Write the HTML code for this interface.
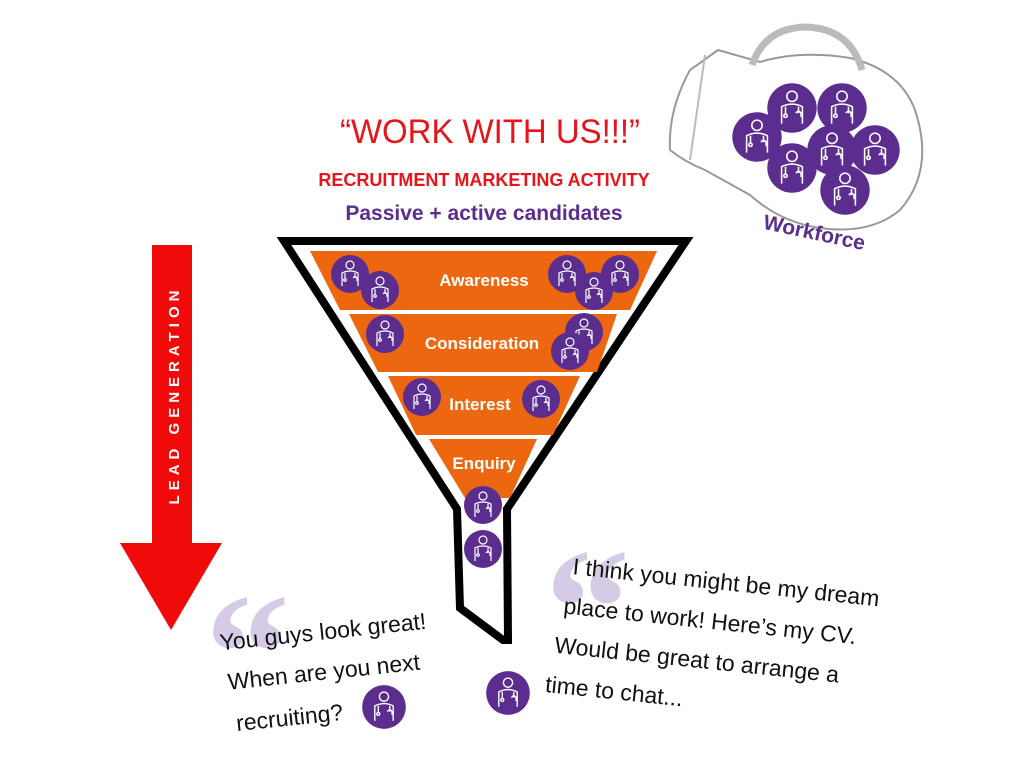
<!DOCTYPE html>
<html><head><meta charset="utf-8"><style>
html,body{margin:0;padding:0;background:#fff;}
svg{display:block}
.hw{font-family:"Liberation Sans Narrow","Liberation Sans",sans-serif;fill:#111;font-size:23px}
.lbl{font-family:"Liberation Sans",sans-serif;font-weight:bold;fill:#fff;font-size:17px}
.q{font-family:"Liberation Serif",serif;font-weight:bold;font-size:170px;fill:#d6cbe6}
</style></head><body>
<svg width="1024" height="757" viewBox="0 0 1024 757" xmlns="http://www.w3.org/2000/svg">
<defs>
<g id="doc">
 <circle r="19" fill="#5b2d8e"/>
 <g fill="none" stroke="#fff" stroke-width="1.2">
  <circle cx="0" cy="-9" r="4"/>
  <path d="M-8 12 V-1 Q0 -5 8 -1 V12"/>
  <path d="M-5 -1 V5 M5 -1 V4 M3 4 Q5 1 7 4 V7"/>
  <circle cx="-5" cy="6" r="1.3"/>
 </g>
</g>
</defs>

<!-- jug -->
<g fill="none" stroke="#999" stroke-width="2">
 <path d="M670 150 Q668 110 690 70 L718 50 L760 62 Q800 50 850 58 Q900 70 915 110 Q935 170 900 210 Q870 235 820 228 Q780 222 750 195 L705 170 Q685 162 670 150 Z"/>
 <path d="M752 65 Q765 28 805 27 Q850 28 862 70" stroke-width="7" stroke="#bbb"/>
 <path d="M705 55 L690 160" stroke="#bbb"/>
</g>
<g>
 <use href="#doc" transform="translate(757,137) scale(1.3)"/>
 <use href="#doc" transform="translate(792,108) scale(1.3)"/>
 <use href="#doc" transform="translate(842,108) scale(1.3)"/>
 <use href="#doc" transform="translate(875,150) scale(1.3)"/>
 <use href="#doc" transform="translate(792,168) scale(1.3)"/>
 <use href="#doc" transform="translate(832,150) scale(1.3)"/>
 <use href="#doc" transform="translate(845,190) scale(1.3)"/>
</g>
<text x="760" y="240" transform="rotate(12 815 245)" font-family="Liberation Sans,sans-serif" font-weight="bold" font-size="21" fill="#5b2d8e">Workforce</text>

<!-- headings -->
<text x="340" y="143" textLength="300" lengthAdjust="spacingAndGlyphs" font-family="Liberation Sans Narrow,Liberation Sans,sans-serif" font-size="34" fill="#e8141b">“WORK WITH US!!!”</text>
<text x="484" y="186" text-anchor="middle" font-family="Liberation Sans,sans-serif" font-weight="bold" font-size="18" fill="#e8141b">RECRUITMENT MARKETING ACTIVITY</text>
<text x="484" y="220" text-anchor="middle" font-family="Liberation Sans,sans-serif" font-weight="bold" font-size="21" fill="#5b2d8e">Passive + active candidates</text>

<!-- red arrow -->
<rect x="152" y="245" width="40" height="302" fill="#f00a0a"/>
<polygon points="120,543 222,543 171,630" fill="#f00a0a"/>
<text transform="translate(179,395) rotate(-90)" text-anchor="middle" font-family="Liberation Sans,sans-serif" font-weight="bold" font-size="15" letter-spacing="5" fill="#fff">LEAD GENERATION</text>

<!-- funnel -->
<path d="M284 241 L686 241 L507 509 L508 640 L503 640 L460 608 L457 509 Z" fill="none" stroke="#000" stroke-width="8" stroke-linejoin="miter"/>
<polygon points="310,251 657,251 630,310 340,310" fill="#ed6711"/>
<polygon points="349,314 617,314 597,372 378,372" fill="#ed6711"/>
<polygon points="388,376 580,376 553,435 416,435" fill="#ed6711"/>
<polygon points="429,439 537,439 510,498 465,498" fill="#ed6711"/>
<text class="lbl" x="484" y="286" text-anchor="middle">Awareness</text>
<text class="lbl" x="482" y="349" text-anchor="middle">Consideration</text>
<text class="lbl" x="480" y="410" text-anchor="middle">Interest</text>
<text class="lbl" x="484" y="469" text-anchor="middle">Enquiry</text>
<use href="#doc" x="350" y="274"/>
<use href="#doc" x="380" y="290"/>
<use href="#doc" x="567" y="274"/>
<use href="#doc" x="620" y="274"/>
<use href="#doc" x="594" y="291"/>
<use href="#doc" x="385" y="334"/>
<use href="#doc" x="584" y="332"/>
<use href="#doc" x="570" y="351"/>
<use href="#doc" x="422" y="397"/>
<use href="#doc" x="541" y="399"/>
<use href="#doc" x="483" y="505"/>
<use href="#doc" x="483" y="549"/>

<!-- quotes -->
<text class="q" x="205" y="710">“</text>
<text class="q" x="545" y="665">“</text>
<g transform="rotate(-6 320 660)">
 <text class="hw" x="222" y="640">You guys look great!</text>
 <text class="hw" x="226" y="680">When are you next</text>
 <text class="hw" x="230" y="722">recruiting?</text>
</g>
<use href="#doc" transform="translate(384,707) scale(1.15)"/>
<g transform="rotate(6 720 650)">
 <text class="hw" x="565" y="590">I think you might be my dream</text>
 <text class="hw" x="560" y="630">place to work! Here’s my CV.</text>
 <text class="hw" x="555" y="670">Would be great to arrange a</text>
 <text class="hw" x="550" y="710">time to chat...</text>
</g>
<use href="#doc" transform="translate(508,693) scale(1.15)"/>
</svg>
</body></html>
